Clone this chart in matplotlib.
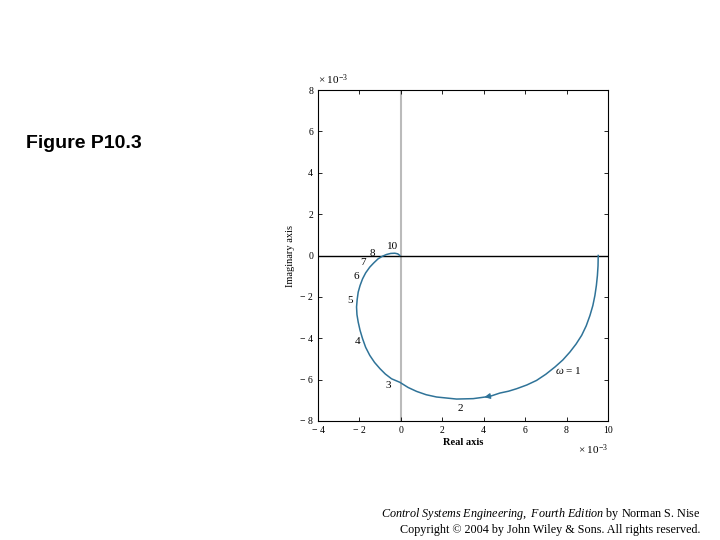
import matplotlib.pyplot as plt
import numpy as np

plt.rcParams['font.family'] = 'Liberation Serif'
plt.rcParams['mathtext.fontset'] = 'custom'
plt.rcParams['mathtext.rm'] = 'Liberation Serif'
plt.rcParams['mathtext.it'] = 'Liberation Serif:italic'

# Nyquist curve, units of 1e-3
re_vals = [9.53, 9.52, 9.49, 9.44, 9.37, 9.27, 9.13, 8.95, 8.73, 8.46, 8.16,
           7.82, 7.44, 7.00, 6.55, 6.08, 5.59, 5.20, 4.78, 4.30, 3.49, 2.69,
           1.72, 1.22, 0.76, 0.35, -0.05, -0.45, -0.75, -1.01, -1.27, -1.50,
           -1.70, -1.85, -1.97, -2.06, -2.12, -2.14, -2.11, -2.06, -1.97,
           -1.85, -1.70, -1.50, -1.31, -1.10, -0.90, -0.69, -0.49, -0.29,
           -0.15, -0.05]
im_vals = [0.0, -0.50, -0.97, -1.45, -1.93, -2.42, -2.90, -3.40, -3.86, -4.28,
           -4.67, -5.05, -5.39, -5.74, -6.04, -6.26, -6.44, -6.56, -6.65,
           -6.81, -6.92, -6.94, -6.84, -6.73, -6.57, -6.38, -6.13, -5.96,
           -5.73, -5.47, -5.17, -4.83, -4.44, -4.02, -3.62, -3.22, -2.86,
           -2.49, -2.13, -1.77, -1.45, -1.13, -0.84, -0.56, -0.36, -0.16,
           -0.04, 0.05, 0.10, 0.11, 0.08, 0.0]

# frequency labels
w_labels = ['10', '8', '7', '6', '5', '4', '3', '2']
w_x = [-0.39, -1.39, -1.82, -2.17, -2.46, -2.11, -0.61, 2.85]
w_y = [0.42, 0.08, -0.32, -1.0, -2.17, -4.18, -6.28, -7.4]

xticks = [-4, -2, 0, 2, 4, 6, 8, 10]
yticks = [-8, -6, -4, -2, 0, 2, 4, 6, 8]

fig = plt.figure(figsize=(7.2, 5.4), dpi=100)
ax = fig.add_axes([0.4417, 0.2204, 0.4027, 0.6129])

ax.axvline(0, color='#bbbbbb', lw=1.5, zorder=1)
ax.axhline(0, color='black', lw=1.0, zorder=1)
ax.plot(re_vals, im_vals, color='#2f7398', lw=1.1, zorder=2,
        solid_joinstyle='round')

# direction arrow
ax.annotate('', xy=(3.9, -6.87), xytext=(4.4, -6.78),
            arrowprops=dict(arrowstyle='-|>', color='#2f7398', lw=1.0,
                            mutation_scale=8))

for t, x, y in zip(w_labels, w_x, w_y):
    ax.text(x, y, t, fontsize=8, ha='center', va='center')
ax.text(7.45, -5.55, r'$\omega$ = 1', fontsize=8, ha='left', va='center')

ax.set_xlim(-4, 10)
ax.set_ylim(-8, 8)
ax.set_xticks(xticks)
ax.set_yticks(yticks)
ax.set_xticklabels([str(v).replace('-', '\u2212 ') for v in xticks])
ax.set_yticklabels([str(v).replace('-', '\u2212 ') for v in yticks])
ax.tick_params(direction='in', top=True, right=True, labelsize=7, length=3,
               width=0.6)
for s in ax.spines.values():
    s.set_linewidth(0.8)

ax.set_xlabel('Real axis', fontsize=7.5, fontweight='bold', labelpad=2)
ax.set_ylabel('Imaginary axis', fontsize=7.5, labelpad=4)

ax.text(0.0, 1.01, r'$\times\ 10^{-3}$', transform=ax.transAxes, fontsize=8,
        ha='left', va='bottom')
ax.text(1.0, -0.065, r'$\times\ 10^{-3}$', transform=ax.transAxes, fontsize=8,
        ha='right', va='top')

fig.text(26 / 720, 1 - 143 / 540, 'Figure P10.3', fontsize=14,
         fontweight='bold', family='Liberation Sans', va='center')

fig.text(700 / 720, 1 - 514 / 540,
         r'$\it{Control\ Systems\ Engineering,\ Fourth\ Edition}$ by Norman S. Nise',
         fontsize=8.7, ha='right', va='center')
fig.text(700 / 720, 1 - 530 / 540,
         'Copyright \u00a9 2004 by John Wiley & Sons. All rights reserved.',
         fontsize=8.7, ha='right', va='center')

fig.savefig('out.png', dpi=100, facecolor='white')
